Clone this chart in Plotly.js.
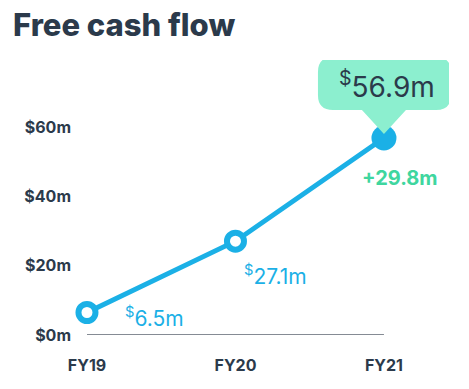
<!DOCTYPE html>
<html>
<head>
<meta charset="utf-8">
<script src="https://cdn.plot.ly/plotly-3.0.1.min.js"></script>
<style>html,body{margin:0;padding:0;background:#fff;}#chart{width:469px;height:389px;}</style>
</head>
<body>
<div id="chart"></div>
<script>
// ---- data ----
const categories = ['FY19', 'FY20', 'FY21'];
const values = [6.5, 27.1, 56.9];
const valueLabels = ['$6.5m', '$27.1m', '$56.9m'];
const changeLabel = '+29.8m';
const yTickValues = [0, 20, 40, 60];
const yTickLabels = ['$0m', '$20m', '$40m', '$60m'];

// ---- styling ----
const BLUE = '#1bb0e6';
const DARK = '#2b3a4b';
const GREEN_BG = '#8cefcf';
const GREEN_TXT = '#3fd69f';
const FONT = 'Inter, Roboto, sans-serif';

const xIdx = categories.map((c, i) => i);
const last = values.length - 1;

function supDollar(s) { return s.replace('$', '<sup>$</sup>'); }

const traceLine = {
  x: xIdx, y: values, type: 'scatter', mode: 'lines',
  line: {color: BLUE, width: 5}, hoverinfo: 'skip', cliponaxis: false
};
const traceHollow = {
  x: xIdx.slice(0, last), y: values.slice(0, last), type: 'scatter', mode: 'markers',
  marker: {size: 17, color: '#ffffff', line: {color: BLUE, width: 6}},
  hoverinfo: 'skip', cliponaxis: false
};
const traceFilled = {
  x: [xIdx[last]], y: [values[last]], type: 'scatter', mode: 'markers',
  marker: {size: 25, color: BLUE, line: {width: 0}},
  hoverinfo: 'skip', cliponaxis: false
};

const labelShifts = [[68, -4], [40, -34]];
const annotations = [];
for (let i = 0; i < last; i++) {
  annotations.push({
    x: xIdx[i], y: values[i], text: supDollar(valueLabels[i]), showarrow: false,
    xshift: labelShifts[i][0], yshift: labelShifts[i][1],
    font: {family: FONT, size: 21, color: BLUE}
  });
}
annotations.push({
  x: xIdx[last], y: values[last], text: supDollar(valueLabels[last]), showarrow: false,
  xshift: 3, yshift: 53, font: {family: FONT, size: 28, color: DARK}
});
annotations.push({
  x: xIdx[last], y: values[last], text: changeLabel, showarrow: false,
  xshift: 16, yshift: -40, font: {family: FONT, size: 20, color: GREEN_TXT, weight: 700}
});
annotations.push({
  xref: 'paper', yref: 'paper', x: 0, y: 1, text: 'Free cash flow', showarrow: false,
  xanchor: 'left', yanchor: 'middle', font: {family: FONT, size: 31, color: DARK, weight: 800},
  xshift: -69, yshift: 36
});

const calloutPath = 'M -51,81 L 52,81 Q 67,81 67,66 L 67,43 Q 67,28 52,28 L 22,28 L 0,4 L -22,28 L -51,28 Q -66,28 -66,43 L -66,66 Q -66,81 -51,81 Z';

const layout = {
  width: 469, height: 389,
  margin: {l: 80, r: 20, t: 60, b: 54},
  paper_bgcolor: '#ffffff', plot_bgcolor: '#ffffff',
  showlegend: false,
  xaxis: {
    range: [-0.047, 2.438], tickvals: xIdx, ticktext: categories,
    showgrid: false, zeroline: false, showline: false, ticks: '',
    ticklabelstandoff: 19,
    tickfont: {family: FONT, size: 16, color: DARK, weight: 700}
  },
  yaxis: {
    range: [0, 79.43], tickvals: yTickValues, ticktext: yTickLabels,
    showgrid: false, zeroline: false, showline: false, ticks: '',
    ticklabelstandoff: 8,
    tickfont: {family: FONT, size: 16, color: DARK, weight: 700}
  },
  shapes: [
    {type: 'line', xref: 'x', yref: 'y', x0: xIdx[0], x1: xIdx[last], y0: 0, y1: 0,
     line: {color: '#5c6571', width: 1.3}, layer: 'below'},
    {type: 'path', xref: 'x', yref: 'y', xsizemode: 'pixel', ysizemode: 'pixel',
     xanchor: xIdx[last], yanchor: values[last], path: calloutPath,
     fillcolor: GREEN_BG, line: {width: 0}, layer: 'above'}
  ],
  annotations: annotations
};

Plotly.newPlot('chart', [traceLine, traceHollow, traceFilled], layout, {displayModeBar: false, staticPlot: true});
</script>
</body>
</html>
